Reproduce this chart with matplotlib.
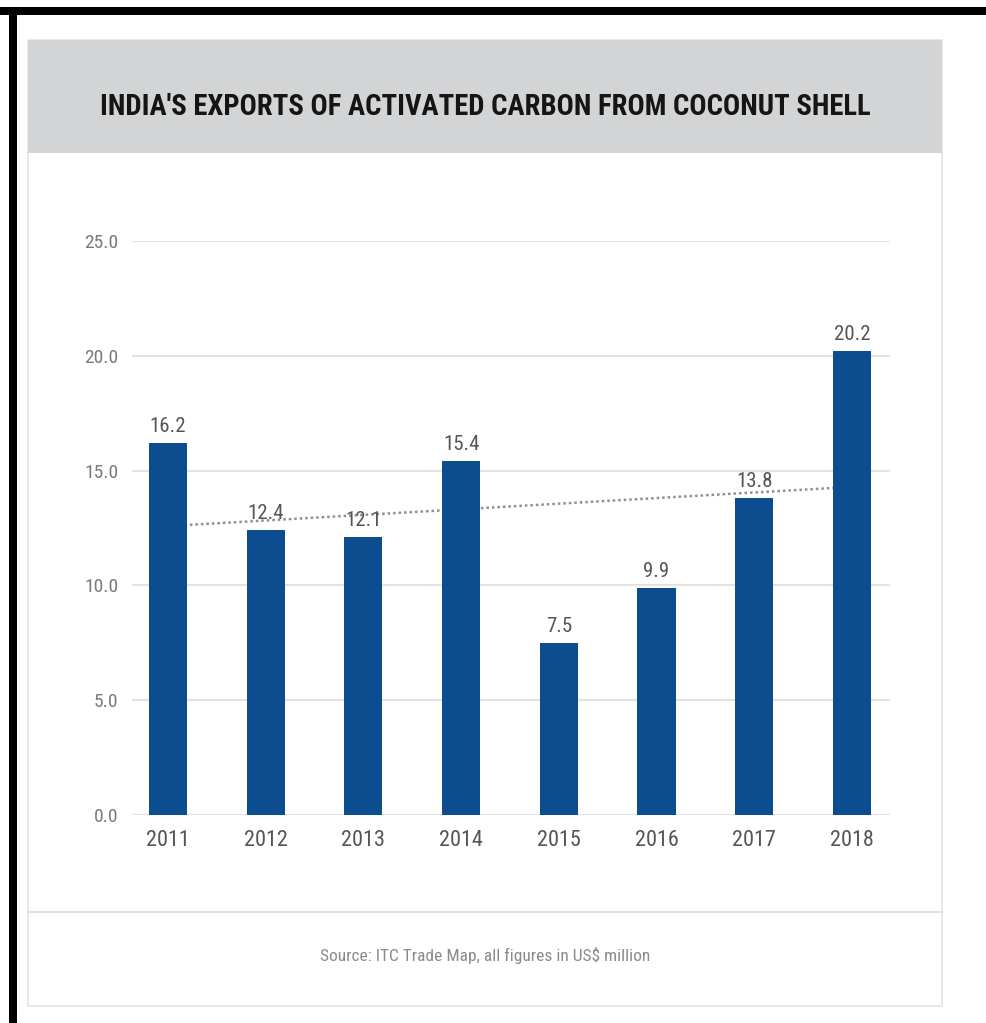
import matplotlib
matplotlib.use("Agg")
import matplotlib.pyplot as plt
from matplotlib import font_manager as fm
from matplotlib.patches import Rectangle
from matplotlib.lines import Line2D
import numpy as np

years = ["2011", "2012", "2013", "2014", "2015", "2016", "2017", "2018"]
values = [16.2, 12.4, 12.1, 15.4, 7.5, 9.9, 13.8, 20.2]
value_labels = ["16.2", "12.4", "12.1", "15.4", "7.5", "9.9", "13.8", "20.2"]
y_ticks = [0, 5, 10, 15, 20, 25]
y_tick_labels = ["0.0", "5.0", "10.0", "15.0", "20.0", "25.0"]
title = "INDIA'S EXPORTS OF ACTIVATED CARBON FROM COCONUT SHELL"
source = "Source: ITC Trade Map, all figures in US$ million"


def pick(cands):
    for c in cands:
        try:
            fm.findfont(fm.FontProperties(family=c), fallback_to_default=False)
            return c
        except Exception:
            pass
    return "DejaVu Sans"

narrow = pick(["Liberation Sans Narrow", "DejaVu Sans Condensed", "Roboto Condensed", "Open Sans Condensed", "Noto Sans"])

W, H = 986, 1023
fig = plt.figure(figsize=(W / 100, H / 100), dpi=100)
fig.patch.set_facecolor("white")

def fx(px):
    return px / W

def fy(py):
    return 1 - py / H

# black frame (top and left)
fig.add_artist(Rectangle((0, fy(15)), 1, fy(7) - fy(15), transform=fig.transFigure,
                         facecolor="black", edgecolor="none", zorder=5))
fig.add_artist(Rectangle((fx(9), 0), fx(17) - fx(9), fy(7), transform=fig.transFigure,
                         facecolor="black", edgecolor="none", zorder=5))

# card
fig.add_artist(Rectangle((fx(28), fy(1006)), fx(942) - fx(28), fy(40) - fy(1006),
                         transform=fig.transFigure, facecolor="white",
                         edgecolor="#e4e4e4", linewidth=1.2, zorder=0))
# title band
fig.add_artist(Rectangle((fx(28), fy(153)), fx(942) - fx(28), fy(40) - fy(153),
                         transform=fig.transFigure, facecolor="#d3d4d5",
                         edgecolor="none", zorder=1))
# separator
fig.add_artist(Line2D([fx(28), fx(942)], [fy(912), fy(912)], transform=fig.transFigure,
                      color="#e2e2e2", linewidth=1.5, zorder=1))

t = fig.text(fx(485), fy(107), title, ha="center", va="center", color="#151515",
             fontsize=20, fontweight="bold", family=narrow, zorder=3)
# fit title width to reference
fig.canvas.draw()
r = fig.canvas.get_renderer()
bb = t.get_window_extent(r)
target = 770
t.set_fontsize(20 * target / bb.width)

fig.text(fx(485), fy(955), source, ha="center", va="center", color="#8a8a8a",
         fontsize=12.5, family=narrow, zorder=3)

ax = fig.add_axes([fx(132), fy(815), fx(890) - fx(132), fy(241) - fy(815)])
ax.set_facecolor("none")
x = np.arange(len(years))
ax.bar(x, values, width=0.39, color="#0c4d8f", zorder=3)

# linear trend line
coef = np.polyfit(x, values, 1)
ax.plot(x, np.polyval(coef, x), linestyle=(0, (1, 1.2)), color="#8f8f8f",
        linewidth=1.8, zorder=2)

for xi, v, lab in zip(x, values, value_labels):
    ax.annotate(lab, (xi, v), xytext=(0, 5), textcoords="offset points",
                ha="center", va="bottom", color="#555555", fontsize=15,
                family=narrow, zorder=4)

ax.set_xlim(-0.368, 7.39)
ax.set_ylim(0, 25)
ax.set_yticks(y_ticks)
ax.set_yticklabels(y_tick_labels, family=narrow, fontsize=14, color="#7a7a7a")
ax.set_xticks(x)
ax.set_xticklabels(years, family=narrow, fontsize=16, color="#555555")
ax.tick_params(axis="both", length=0)
ax.tick_params(axis="y", pad=10)
ax.tick_params(axis="x", pad=11)
ax.grid(axis="y", color="#e3e3e3", linewidth=1.5, zorder=0)
for s in ax.spines.values():
    s.set_visible(False)
ax.axhline(0, color="#d9d9d9", linewidth=1.5, zorder=1)

fig.savefig("out.png", dpi=100, facecolor="white")
